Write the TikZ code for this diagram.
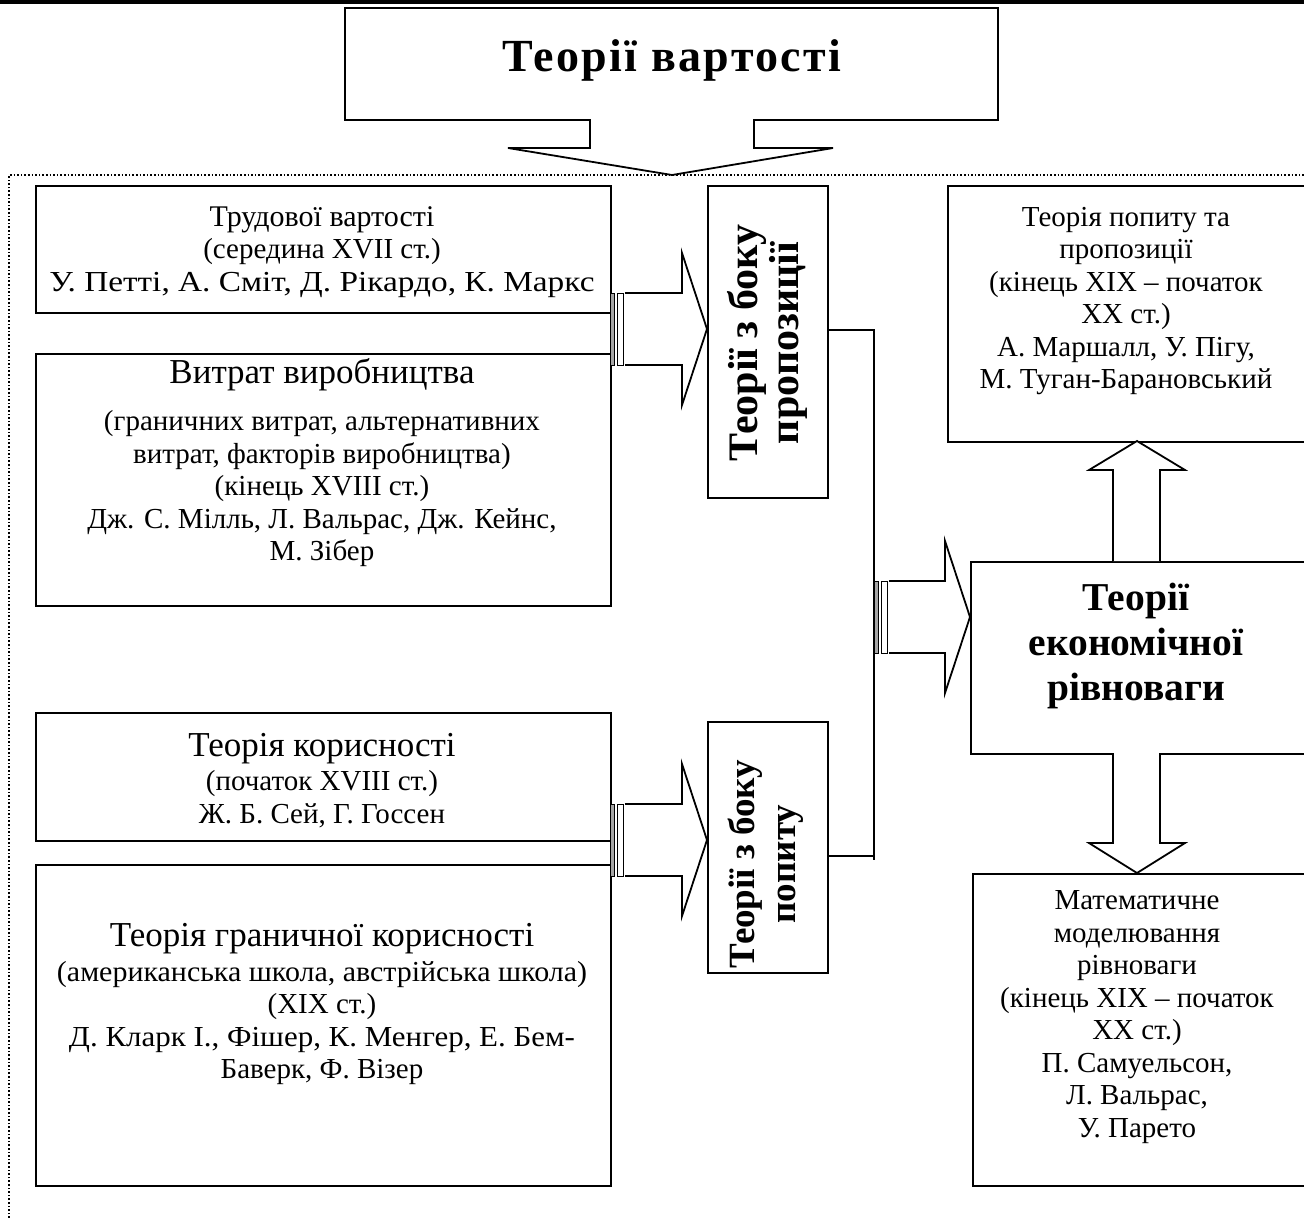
\documentclass[tikz,border=0pt]{standalone}
\usepackage{fontspec}
\setmainfont{Liberation Serif}
\newfontfamily\spacedfont[LetterSpace=5]{Liberation Serif}
\usetikzlibrary{calc}
\newcommand{\widen}[2]{\resizebox{#1}{\height}{#2}}
\newcommand{\sarrow}[3]{% #1 tail x, #2 centre y, #3 tip x
  \filldraw[line width=1pt, fill=gray!70] (#1,#2-36) rectangle (#1+4,#2+36);
  \draw[line width=1pt, fill=white] (#1+7,#2-36) rectangle (#1+13,#2+36);
  \draw[line width=1.8pt, line join=miter, fill=white]
    (#1+15,#2-36) -- (#3-25,#2-36) -- (#3-25,#2-76) -- (#3,#2)
    -- (#3-25,#2+76) -- (#3-25,#2+36) -- (#1+15,#2+36);
}
\begin{document}
\begin{tikzpicture}[x=1pt,y=-1pt,line width=1.8pt,
  box/.style={draw, rectangle, line width=1.8pt, inner sep=0pt, anchor=north west},
  small/.style={align=center, inner sep=0pt, font=\fontsize{29}{32.5}\selectfont},
  big/.style={align=center, inner sep=0pt, font=\fontsize{35}{40}\selectfont},
  vbold/.style={align=center, inner sep=0pt, rotate=90, font=\bfseries\fontsize{#1}{41}\selectfont},
  mbold/.style={align=center, inner sep=0pt, font=\bfseries\fontsize{39.5}{45}\selectfont},
  dotline/.style={line width=1.6pt, dash pattern=on 1.6pt off 2pt},
  blockarrow/.style={draw, line width=1.8pt, line join=miter, fill=white}
]
\clip (0,0) rectangle (1304,1218);
% heavy rule on top
\fill (0,0) rectangle (1304,3.5);
% dotted frame
\draw[dotline] (9,1218) -- (9,175) -- (1304,175);
% title callout
\draw[blockarrow] (345,8) -- (998,8) -- (998,120) -- (754,120) -- (754,148) -- (833,148)
  -- (672,175) -- (508,148) -- (590,148) -- (590,120) -- (345,120) -- cycle;
\node[inner sep=0pt, font=\spacedfont\bfseries\fontsize{46}{52}\selectfont] (title) at (672,60) {Теорії вартості};
% left boxes
\node[box, minimum width=575, minimum height=127] (b1) at (35,185) {};
\node[small] (t1) at (322,252) {{\fontsize{30}{32.5}\selectfont Трудової вартості}\\(середина XVII ст.)\\\widen{545pt}{У. Петті, А. Сміт, Д. Рікардо, К. Маркс}};
\node[box, minimum width=575, minimum height=252] (b2) at (35,353) {};
\node[big] (h2) at (322,375) {Витрат виробництва};
\node[small] (t2) at (322,489) {(граничних витрат, альтернативних\\витрат, факторів виробництва)\\(кінець XVIII ст.)\\Дж. С. Мілль, Л. Вальрас, Дж. Кейнс,\\М. Зібер};
\node[box, minimum width=575, minimum height=128] (b3) at (35,712) {};
\node[big] (h3) at (322,749) {Теорія корисності};
\node[small] (t3) at (322,799) {(початок XVIII ст.)\\Ж. Б. Сей, Г. Госсен};
\node[box, minimum width=575, minimum height=321] (b4) at (35,864) {};
\node[big] (h4) at (322,939) {Теорія граничної корисності};
\node[small] (t4) at (322,1023) {\widen{530pt}{(американська школа, австрійська школа)}\\(XIX ст.)\\\widen{506pt}{Д. Кларк І., Фішер, К. Менгер, Е. Бем-}\\Баверк, Ф. Візер};
% vertical boxes
\node[box, minimum width=120, minimum height=312] (vtop) at (707,185) {};
\node[vbold=42] (vt1) at (767,343) {Теорії з боку\\пропозиції};
\node[box, minimum width=120, minimum height=251] (vbot) at (707,721) {};
\node[vbold=37] (vt2) at (766,864) {Теорії з боку\\попиту};
% right boxes
\node[box, minimum width=363, minimum height=256] (r1) at (947,185) {};
\node[small] (rt1) at (1126,301) {Теорія попиту та\\пропозиції\\(кінець XIX – початок\\XX ст.)\\А. Маршалл, У. Пігу,\\М. Туган-Барановський};
\node[box, minimum width=340, minimum height=192] (r2) at (970,561) {};
\node[mbold] (rt2) at (1136,646) {Теорії\\економічної\\рівноваги};
\node[box, minimum width=338, minimum height=312] (r3) at (972,873) {};
\node[small] (rt3) at (1137,1017) {Математичне\\моделювання\\рівноваги\\(кінець XIX – початок\\XX ст.)\\П. Самуельсон,\\Л. Вальрас,\\У. Парето};
% junction of the two side columns
\coordinate (j1) at (874,330);
\coordinate (j2) at (874,856);
\coordinate (j3) at (874,860);
\draw (vtop.east |- j1) -- (j1) -- (j3);
\draw (vbot.east |- j2) -- (j2);
% striped arrows
\sarrow{610}{329}{707}
\sarrow{610}{840}{707}
\sarrow{874}{617}{970}
% up and down block arrows
\draw[blockarrow] (1113,561) -- (1113,470) -- (1089,470) -- (1137,441) -- (1185,470) -- (1160,470) -- (1160,561);
\draw[blockarrow] (1113,753) -- (1113,843) -- (1089,843) -- (1137,873) -- (1185,843) -- (1160,843) -- (1160,753);
\end{tikzpicture}
\end{document}
